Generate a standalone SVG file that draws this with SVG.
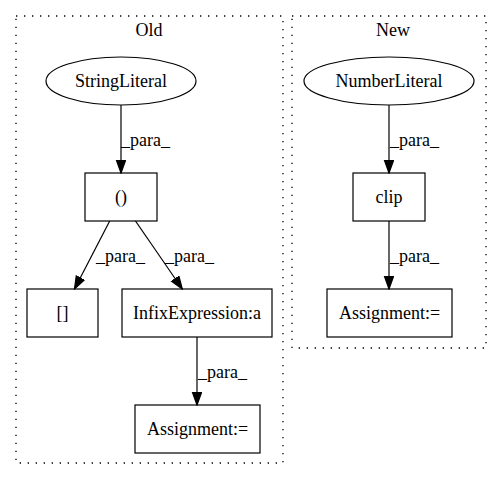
<svg xmlns="http://www.w3.org/2000/svg" width="501" height="480" viewBox="0 0 501 480">
<style>
text{font-family:"Liberation Serif","Times New Roman",serif;font-size:18px;fill:#000}
.c{text-anchor:middle}
.cl{fill:none;stroke:#000;stroke-dasharray:1.33,6.67;stroke-width:1.33}
.n{fill:none;stroke:#000;stroke-width:1.2}
.e{fill:none;stroke:#000;stroke-width:1.2}
</style>
<defs>
<marker id="ah" markerUnits="userSpaceOnUse" markerWidth="14" markerHeight="12" refX="13" refY="5" orient="auto">
<path d="M0.5,0.5 L13,5 L0.5,9.5 Z" fill="#000" stroke="#000" stroke-width="1.2"/>
</marker>
</defs>
<rect width="501" height="480" fill="#fff"/>
<g id="cluster_old">
<rect class="cl" x="16" y="16" width="267" height="447"/>
<text class="c" x="149" y="36">Old</text>
</g>
<g id="cluster_new">
<rect class="cl" x="292" y="16" width="194" height="332"/>
<text class="c" x="393" y="36">New</text>
</g>
<g id="StringLiteral">
<ellipse class="n" cx="121" cy="81" rx="75" ry="24"/>
<text class="c" x="121" y="87">StringLiteral</text>
</g>
<g id="paren">
<rect class="n" x="85" y="173" width="72" height="48"/>
<text class="c" x="121" y="203">()</text>
</g>
<g id="brackets">
<rect class="n" x="27" y="289" width="71" height="48"/>
<text class="c" x="62.5" y="319">[]</text>
</g>
<g id="InfixExpression">
<rect class="n" x="122" y="289" width="150" height="48"/>
<text class="c" x="197" y="319">InfixExpression:a</text>
</g>
<g id="AssignmentOld">
<rect class="n" x="135" y="405" width="125" height="48"/>
<text class="c" x="197.5" y="435">Assignment:=</text>
</g>
<g id="NumberLiteral">
<ellipse class="n" cx="389" cy="81" rx="85" ry="24"/>
<text class="c" x="389" y="87">NumberLiteral</text>
</g>
<g id="clip">
<rect class="n" x="353" y="173" width="72" height="48"/>
<text class="c" x="389" y="203">clip</text>
</g>
<g id="AssignmentNew">
<rect class="n" x="327" y="289" width="125" height="48"/>
<text class="c" x="389.5" y="319">Assignment:=</text>
</g>
<g id="edges">
<path class="e" d="M121,105 L121,173" marker-end="url(#ah)"/>
<text x="121" y="146">_para_</text>
<path class="e" d="M109.7,221 L74.5,289" marker-end="url(#ah)"/>
<text x="96" y="262">_para_</text>
<path class="e" d="M135.5,221 L182.3,289" marker-end="url(#ah)"/>
<text x="165" y="262">_para_</text>
<path class="e" d="M197,337 L197,405" marker-end="url(#ah)"/>
<text x="198" y="378">_para_</text>
<path class="e" d="M389,105 L389,173" marker-end="url(#ah)"/>
<text x="390" y="146">_para_</text>
<path class="e" d="M389,221 L389,289" marker-end="url(#ah)"/>
<text x="390" y="262">_para_</text>
</g>
</svg>
